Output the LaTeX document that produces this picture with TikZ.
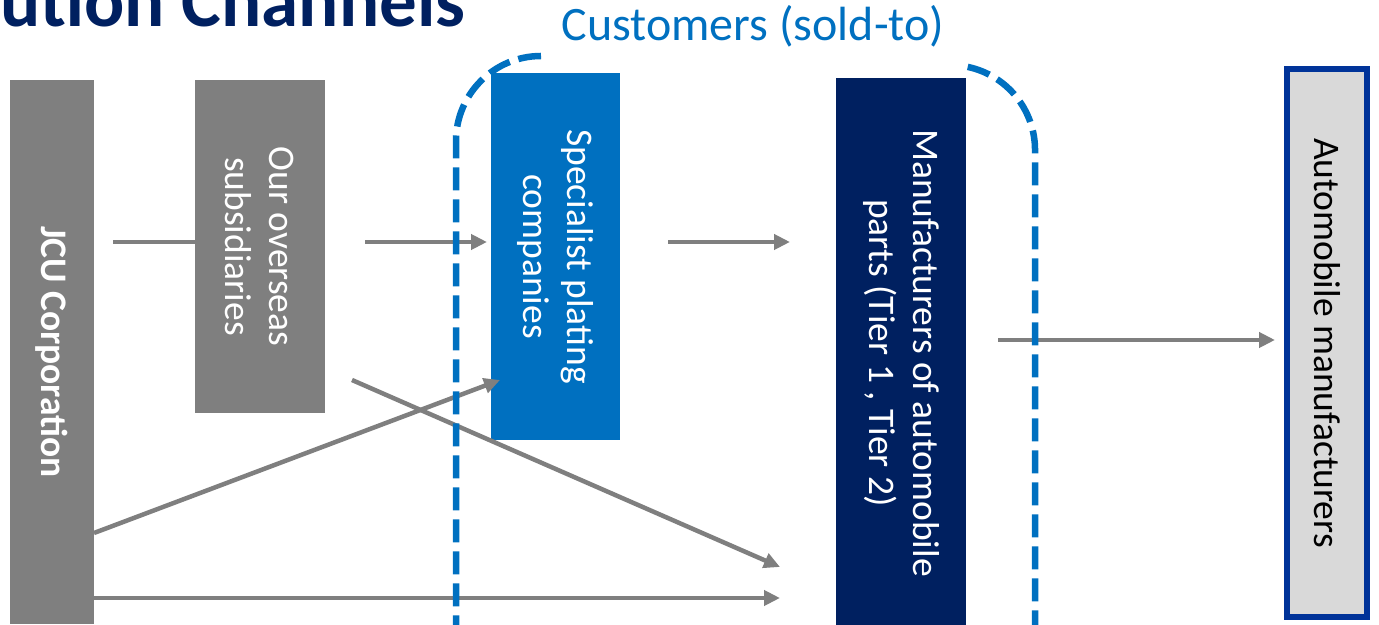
\documentclass[tikz,border=0pt]{standalone}
\usepackage{fontspec}
\setmainfont{Carlito}
\usetikzlibrary{arrows.meta}
\definecolor{jcugrey}{HTML}{7F7F7F}
\definecolor{jcublue}{HTML}{0070C0}
\definecolor{jcunavy}{HTML}{002060}
\definecolor{autofill}{HTML}{D9D9D9}
\definecolor{autoedge}{HTML}{003399}
\tikzset{
  chbox/.style = {rectangle, inner sep=0pt, draw=none},% boite de canal
  chtext/.style = {rotate=-90, align=center, inner sep=0pt, text=white,
    font=\fontsize{37.5}{44}\selectfont},% texte vertical
  flow/.style = {draw=jcugrey, line width=4.5pt,
    -{Triangle[length=16pt,width=15pt]}},% fleche grise
  soldto/.style = {draw=jcublue, line width=6.5pt,
    dash pattern=on 23pt off 9pt}% clients, pointilles
}
\begin{document}
\begin{tikzpicture}[x=1pt,y=1pt]
\useasboundingbox (0,0) rectangle (1379,624);
% titres
\node [anchor=base west, inner sep=0pt, text=jcunavy,
  font=\fontsize{75}{90}\selectfont\bfseries] (title) at (0,597) {ution Channels};
\node [anchor=base, inner sep=0pt, text=jcublue,
  font=\fontsize{48}{58}\selectfont] (cust) at (753,583) {Customers (sold-to)};
% canaux
\node [chbox, fill=jcugrey, minimum width=84, minimum height=544] (jcu) at (52,272) {};
\node [chtext] at (jcu) {\bfseries JCU Corporation};
\node [chbox, fill=jcugrey, minimum width=130, minimum height=333] (sub) at (260,377.5) {};
\node [chtext] at (sub) {Our overseas\\subsidiaries};
\node [chbox, fill=jcublue, minimum width=129, minimum height=367] (spec) at (555.5,367.5) {};
\node [chtext] at (spec) {Specialist plating\\companies};
\node [chbox, fill=jcunavy, minimum width=130, minimum height=550] (mfr) at (901,271) {};
\node [chtext] at (mfr) {Manufacturers of automobile\\parts (Tier 1 , Tier 2)};
\node [chbox, fill=autofill, draw=autoedge, line width=6pt,
  minimum width=80, minimum height=548] (auto) at (1327,281) {};
\node [chtext, text=black] at (auto) {Automobile manufacturers};
% fleches
\coordinate (j1) at (113,382);
\coordinate (j2) at (94,91);
\coordinate (j3) at (94,26);
\coordinate (s1) at (365,382);
\coordinate (s2) at (352,244);
\coordinate (p1) at (487,382);
\coordinate (p2) at (500,244);
\coordinate (p3) at (668,382);
\coordinate (m1) at (790,382);
\coordinate (m2) at (780,57);
\coordinate (m3) at (780,26);
\coordinate (m4) at (998,284);
\coordinate (a1) at (1275,284);
\draw [flow, -] (j1) -- (j1 -| sub.west);
\draw [flow] (s1) -- (p1);
\draw [flow] (p3) -- (m1);
\draw [flow] (m4) -- (a1);
\draw [flow] (j2) -- (p2);
\draw [flow] (s2) -- (m2);
\draw [flow] (j3) -- (m3);
% contour des clients
\draw [soldto] (541,568) arc[start angle=90, end angle=180, radius=85] -- (456,-10);
\draw [soldto] (967.7,557.1) arc[start angle=78, end angle=0, radius=85] -- (1035,-10);
\end{tikzpicture}
\end{document}
